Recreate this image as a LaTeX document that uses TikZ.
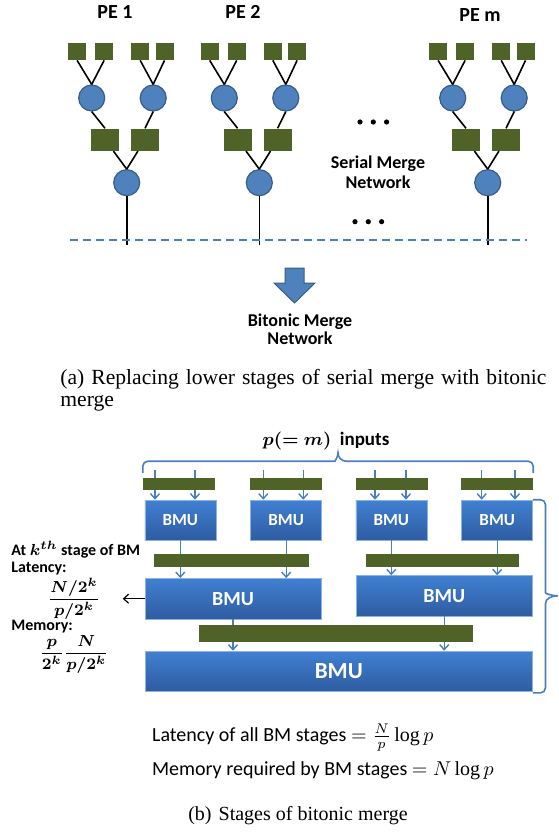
\documentclass[tikz,border=0pt]{standalone}
\usepackage{amssymb,amsmath,bm}
\usepackage{fontspec}
\setmainfont{Liberation Serif}
\newfontfamily\calibri{Carlito}
\usetikzlibrary{%
  arrows.meta,%
  calc%
}
\definecolor{bufgreen}{RGB}{79,98,40}
\definecolor{nodeblue}{RGB}{79,129,189}
\definecolor{nodeedge}{RGB}{56,93,138}
\definecolor{bmutop}{RGB}{64,128,210}
\definecolor{bmubot}{RGB}{46,92,160}
\definecolor{linkblue}{RGB}{74,126,192}
\tikzset{>=latex,
  leaf/.style = {fill=bufgreen, minimum width=9pt, minimum height=8.5pt, inner sep=0pt},
  buf/.style = {fill=bufgreen, minimum width=14pt, minimum height=11pt, inner sep=0pt},
  merger/.style = {circle, fill=nodeblue, draw=nodeedge, line width=0.6pt,
    minimum size=13pt, inner sep=0pt},
  bar/.style = {fill=bufgreen, inner sep=0pt},
  bmu/.style = {top color=bmutop, bottom color=bmubot, draw=bmutop!60!white,
    line width=0.3pt, inner sep=0pt, text=white},
  feed/.style = {linkblue, line width=0.7pt,
    -{Straight Barb[length=2.5pt,width=4.5pt]}},
  wire/.style = {line width=0.8pt},
  bracket/.style = {linkblue, line width=0.8pt},
  petitle/.style = {font=\calibri\bfseries\fontsize{10}{12}\selectfont},
  blockname/.style = {font=\calibri\bfseries\fontsize{9}{10}\selectfont, align=center},
  note/.style = {font=\calibri\bfseries\boldmath\fontsize{8}{10}\selectfont, inner sep=0pt},
  capt/.style = {font=\fontsize{10}{12}\selectfont, inner sep=0pt}
}

\begin{document}
\begin{tikzpicture}[x=0.5pt,y=-0.5pt]
  \useasboundingbox (0,0) rectangle (558,834);

  % serial merge trees, one per PE
  \foreach \r/\n/\lx/\ly in {126.7/1/115/12, 259.3/2/243/12, 487.7/m/480/15}{
    \node[petitle] (pe\n) at (\lx,\ly) {PE \n};
    \node[leaf] (la\n) at (\r-49.6,51.5) {};
    \node[leaf] (lb\n) at (\r-22.6,51.5) {};
    \node[leaf] (lc\n) at (\r+13.5,51.5) {};
    \node[leaf] (ld\n) at (\r+37.8,51.5) {};
    \node[merger] (ma\n) at (\r-35,98) {};
    \node[merger] (mb\n) at (\r+26.5,98) {};
    \node[buf] (ba\n) at (\r-21.7,139.7) {};
    \node[buf] (bb\n) at (\r+18.3,139.7) {};
    \node[merger] (root\n) at (\r,182.7) {};
    \coordinate (foot\n) at (\r,245);
    \draw[wire] (la\n.south) -- (ma\n.north);
    \draw[wire] (lb\n.south) -- (ma\n.north);
    \draw[wire] (lc\n.south) -- (mb\n.north);
    \draw[wire] (ld\n.south) -- (mb\n.north);
    \draw[wire] (ma\n.south) -- (ba\n.north);
    \draw[wire] (mb\n.south) -- (bb\n.north);
    \draw[wire] (ba\n) -- (root\n.north);
    \draw[wire] (bb\n) -- (root\n.north);
    \draw[wire] (root\n) -- (foot\n);
  }
  \draw[linkblue, line width=1pt, dash pattern=on 4pt off 2.5pt] (70,240) -- (527,240);

  % dots between PE 2 and PE m
  \foreach \d in {0,1,2}{
    \fill (360+13.3*\d,122) circle (1.3pt);
    \fill (355+13.3*\d,221.7) circle (1.3pt);
  }
  \node[blockname] (serial) at (378,172) {Serial Merge\\Network};

  % block arrow
  \filldraw[fill=nodeblue, draw=nodeedge, line width=0.5pt]
    (285,268) -- (304,268) -- (304,283) -- (315,283) -- (294.5,303)
    -- (274,283) -- (285,283) -- cycle;
  \node[blockname, font=\calibri\bfseries\fontsize{9}{9}\selectfont] (bitonic) at (300,329) {Bitonic Merge\\Network};

  \node[capt, font=\fontsize{10.8}{13}\selectfont, anchor=base west] (capa) at (60,384.3)
    {\makebox[243pt][s]{(a)\hspace{3.5pt}Replacing lower stages of serial merge with bitonic}};
  \node[capt, font=\fontsize{10.8}{13}\selectfont, anchor=base west] (capa2) at (60,406.7) {merge};

  % bitonic merge units
  \foreach \i/\x in {1/180.3, 2/286.2, 3/391.3, 4/497.2}
    \node[bmu, minimum width=35.5pt, minimum height=20pt,
      font=\calibri\bfseries\fontsize{8.5}{10}\selectfont] (bmu\i) at (\x,520) {BMU};
  \node[bmu, minimum width=88pt, minimum height=20.3pt,
    font=\calibri\bfseries\fontsize{10}{12}\selectfont] (bmu5) at (233,598.7) {BMU};
  \node[bmu, minimum width=88.2pt, minimum height=20.2pt,
    font=\calibri\bfseries\fontsize{10}{12}\selectfont] (bmu6) at (444.2,595.8) {BMU};
  \node[bmu, minimum width=193.8pt, minimum height=20.3pt,
    font=\calibri\bfseries\fontsize{11.5}{13}\selectfont] (bmu7) at (338.8,671.3) {BMU};

  % inputs into the first stage
  \foreach \i/\a/\b in {1/155/195, 2/263.3/303.3, 3/375/406, 4/481.7/515}{
    \coordinate (ina\i) at (\a,470);
    \coordinate (inb\i) at (\b,470);
    \draw[feed] (ina\i) -- (ina\i |- bmu\i.north);
    \draw[feed] (inb\i) -- (inb\i |- bmu\i.north);
  }
  \draw[feed] (bmu1.south) -- (bmu1.south |- bmu5.north);
  \draw[feed] (bmu2.south) -- (bmu2.south |- bmu5.north);
  \draw[feed] (bmu3.south) -- (bmu3.south |- bmu6.north);
  \draw[feed] (bmu4.south) -- (bmu4.south |- bmu6.north);
  \draw[feed] (bmu5.south) -- (bmu5.south |- bmu7.north);
  \draw[feed] (bmu6.south) -- (bmu6.south |- bmu7.north);

  % buffers between stages
  \foreach \i/\x in {1/179.2, 2/285.8, 3/391.5, 4/496.8}
    \node[bar, minimum width=36pt, minimum height=6.2pt] (bar\i) at (\x,483.8) {};
  \node[bar, minimum width=77.5pt, minimum height=6.7pt] (bar5) at (231.8,560.7) {};
  \node[bar, minimum width=76.3pt, minimum height=6.7pt] (bar6) at (442.3,560.7) {};
  \node[bar, minimum width=137pt, minimum height=8.3pt] (bar7) at (336.3,633.7) {};

  % braces
  \coordinate (brl) at ([yshift=2.2pt]bar1.north west);
  \coordinate (brr) at ([yshift=2.2pt]bar4.north east);
  \coordinate (brtip) at ($(brl)!0.5!(brr)+(0,-20)$);
  \draw[bracket] (brl) [rounded corners=2.5pt] -- ++(0,-11.6) -- ($(brtip)+(-8,8.4)$)
    [sharp corners] to[out=0,in=-90] (brtip) to[out=-90,in=180] ($(brtip)+(8,8.4)$)
    [rounded corners=2.5pt] -- ($(brr)+(0,-11.6)$) -- (brr);
  \node[petitle, font=\calibri\bfseries\fontsize{9.5}{11}\selectfont] (inputs) at (326,441)
    {$\bm{p(=m)}$\ \ inputs};
  \coordinate (bsr) at ($(bmu4.north east)!0.5!(bmu7.south east)+(25,0)$);
  \draw[bracket] (bmu4.north east) [rounded corners=2.5pt] -- ++(12.5,0) -- ($(bsr)+(-12.5,-8)$)
    [sharp corners] to[out=-90,in=180] (bsr) to[out=180,in=90] ($(bsr)+(-12.5,8)$)
    [rounded corners=2.5pt] |- ([yshift=-0.5pt]bmu7.south east);

  % cost at one stage
  \coordinate (notetip) at ([xshift=-11pt]bmu5.west);
  \draw[-{Straight Barb[length=2.5pt,width=4.5pt]}, line width=0.6pt] (bmu5.west) -- (notetip);
  \node[note, anchor=base west] (atk) at (11,555) {At $k^{th}$ stage of BM};
  \node[note, anchor=base west] (lat) at (11,572.3) {Latency:};
  \node[note] (latfrac) at (74,598.7) {$\dfrac{N/2^k}{p/2^k}$};
  \node[note, anchor=base west] (mem) at (11,630.7) {Memory:};
  \node[note] (memfrac) at (74,654.3) {$\dfrac{p}{2^k}\dfrac{N}{p/2^k}$};

  \node[anchor=base west, inner sep=0pt, font=\calibri\fontsize{10}{12}\selectfont] (latall)
    at (151.7,741.7) {Latency of all BM stages $=\frac{N}{p}\log p$};
  \node[anchor=base west, inner sep=0pt, font=\calibri\fontsize{10}{12}\selectfont] (memall)
    at (151.7,775) {Memory required by BM stages $= N\log p$};

  \node[capt, anchor=base] (capb) at (298,820) {(b)\hspace{3.5pt}Stages of bitonic merge};
\end{tikzpicture}
\end{document}
